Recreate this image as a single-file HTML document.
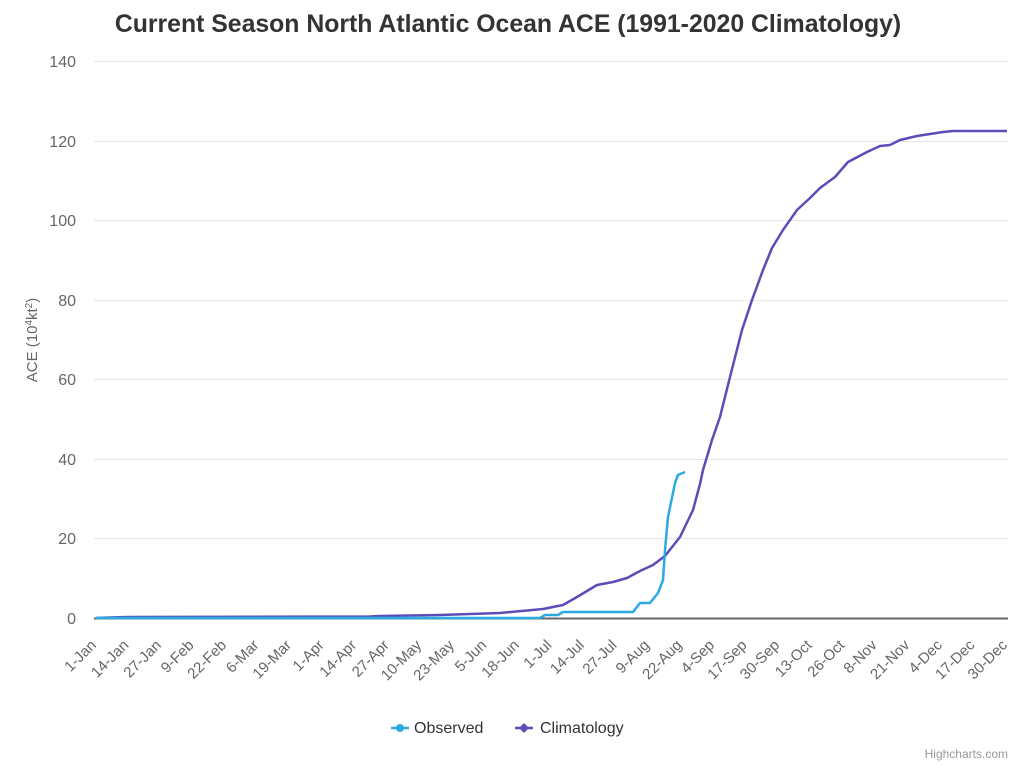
<!DOCTYPE html>
<html><head><style>
body{margin:0;background:#fff;font-family:"Liberation Sans",sans-serif;}
</style></head><body>
<svg width="1024" height="764" xmlns="http://www.w3.org/2000/svg" font-family="Liberation Sans, sans-serif">
<text x="508" y="32" text-anchor="middle" font-size="24.8" font-weight="bold" fill="#333">Current Season North Atlantic Ocean ACE (1991-2020 Climatology)</text>
<g stroke="#e6e6e6" stroke-width="1">
<line x1="94" x2="1008" y1="61.5" y2="61.5"/><line x1="94" x2="1008" y1="141.5" y2="141.5"/>
<line x1="94" x2="1008" y1="220.5" y2="220.5"/><line x1="94" x2="1008" y1="300.5" y2="300.5"/>
<line x1="94" x2="1008" y1="379.5" y2="379.5"/><line x1="94" x2="1008" y1="459.5" y2="459.5"/>
<line x1="94" x2="1008" y1="538.5" y2="538.5"/>
</g>
<line x1="94" x2="1008" y1="618.5" y2="618.5" stroke="#666" stroke-width="2"/>
<g font-size="16" fill="#666" text-anchor="end">
<text x="76" y="67">140</text><text x="76" y="147">120</text><text x="76" y="226">100</text>
<text x="76" y="306">80</text><text x="76" y="385">60</text><text x="76" y="465">40</text>
<text x="76" y="544">20</text><text x="76" y="624">0</text>
</g>
<text transform="translate(37,340) rotate(-90)" text-anchor="middle" font-size="15" fill="#666">ACE (10<tspan font-size="10" dy="-5">4</tspan><tspan dy="5">kt</tspan><tspan font-size="10" dy="-5">2</tspan><tspan dy="5">)</tspan></text>
<g font-size="15" fill="#666" text-anchor="end" id="xl"></g>
<polyline fill="none" stroke="#5b4db7" stroke-width="2.5" stroke-linejoin="round" points="96,618 110,617.5 130,617 370,616.5 380,616 440,615 500,613 543,609 563,605 577,597 597,585 613,582 627,578 640,571 653,565 665,556 680,537 693,510 700,484 703,470 712,440 720,417 730,377 742,330 752,300 763,270 772,248 783,230 797,210 810,198 820,188 835,177 848,162 867,152 880,146 890,145 900,140 917,136 943,132 953,131 1007,131"/>
<polyline fill="none" stroke="#2caae2" stroke-width="2.5" stroke-linejoin="round" points="96,618 540,618 545,615 558,615 563,612 633,612 640,603 650,603 658,593 663,580 665,550 668,517 675,483 678,475 685,472"/>
<g font-size="16" fill="#333">
<line x1="391" x2="409" y1="728" y2="728" stroke="#2caae2" stroke-width="2.5"/><circle cx="400" cy="728" r="4" fill="#2caae2"/>
<text x="414" y="733">Observed</text>
<line x1="515" x2="533" y1="728" y2="728" stroke="#5b4db7" stroke-width="2.5"/><path d="M524 723 L529 728 L524 733 L519 728Z" fill="#5b4db7"/>
<text x="540" y="733">Climatology</text>
</g>
<text x="1008" y="758" text-anchor="end" font-size="12" fill="#999">Highcharts.com</text>
</svg>
<script>
var L=["1-Jan","14-Jan","27-Jan","9-Feb","22-Feb","6-Mar","19-Mar","1-Apr","14-Apr","27-Apr","10-May","23-May","5-Jun","18-Jun","1-Jul","14-Jul","27-Jul","9-Aug","22-Aug","4-Sep","17-Sep","30-Sep","13-Oct","26-Oct","8-Nov","21-Nov","4-Dec","17-Dec","30-Dec"];
var g=document.getElementById("xl"),s="";
L.forEach(function(t,i){var x=96+i*(1007-96)/28+1;s+='<text transform="translate('+x+',646) rotate(-45)">'+t+'</text>';});
g.innerHTML=s;
</script>
</body></html>
